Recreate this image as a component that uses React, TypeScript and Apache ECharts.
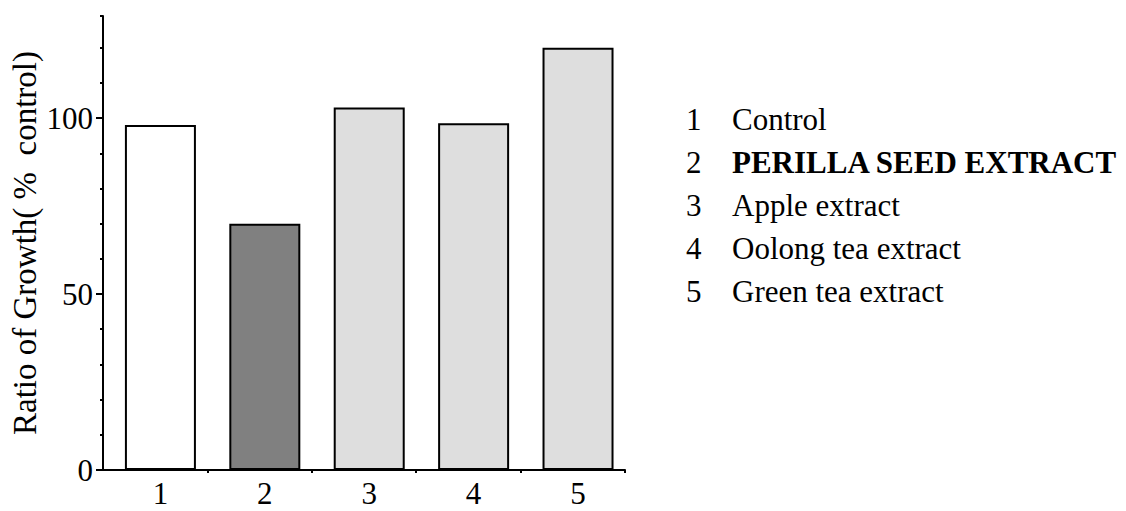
import React, { useEffect, useRef } from "react";
import * as echarts from "echarts";

const categories = ["1", "2", "3", "4", "5"];
const legendNames = ["Control", "PERILLA SEED EXTRACT", "Apple extract", "Oolong tea extract", "Green tea extract"];
const values = [98, 70, 103, 98.5, 120];
const barColors = ["#ffffff", "#808080", "#dedede", "#dedede", "#dedede"];
const yMinorTickValues = [10, 20, 30, 40, 60, 70, 80, 90, 110, 120, 129];
const yMajorTickValues = [0, 50, 100];
const yLabelValues = [0, 50, 100];
const xTickValues = [1.45, 2.45, 3.45, 4.45, 5.45];
const yAxisTitle = "Ratio of Growth( %  control)";

const FONT = "'Liberation Serif', 'Times New Roman', serif";

export default function App() {
  const ref = useRef<HTMLDivElement>(null);
  useEffect(() => {
    if (!ref.current) return;
    const chart = echarts.init(ref.current, null, { renderer: "svg" });
    const xPos = categories.map((_, i) => i + 1);
    const legendGraphics: any[] = [];
    legendNames.forEach((name, i) => {
      const baseline = 130 + i * 43;
      const y = baseline - 10.5;
      legendGraphics.push({
        type: "text",
        x: 686,
        y,
        style: { text: categories[i], font: `31px ${FONT}`, fill: "#000", verticalAlign: "middle" },
      });
      legendGraphics.push({
        type: "text",
        x: 732,
        y,
        style: {
          text: name,
          font: `${i === 1 ? "bold " : ""}31px ${FONT}`,
          fill: "#000",
          verticalAlign: "middle",
        },
      });
    });
    const yBase = {
      type: "value",
      min: 0,
      max: 129,
      position: "left",
      splitLine: { show: false },
    };
    chart.setOption({
      animation: false,
      backgroundColor: "#ffffff",
      grid: { left: 103, right: 501, top: 16, bottom: 41, containLabel: false },
      xAxis: {
        type: "value",
        min: 0.45,
        max: 5.45,
        splitLine: { show: false },
        axisLine: { show: true, lineStyle: { color: "#000", width: 2 } },
        axisTick: {
          show: true,
          inside: false,
          length: 3,
          lineStyle: { color: "#000", width: 2 },
          customValues: xTickValues,
        },
        axisLabel: {
          customValues: xPos,
          formatter: (v: number) => categories[Math.round(v) - 1] ?? "",
          color: "#000",
          fontFamily: FONT,
          fontSize: 31,
          margin: 8,
        },
      },
      yAxis: [
        {
          ...yBase,
          axisLine: { show: true, lineStyle: { color: "#000", width: 2 } },
          axisTick: {
            show: true,
            length: 7,
            lineStyle: { color: "#000", width: 2 },
            customValues: yMajorTickValues,
          },
          axisLabel: {
            customValues: yLabelValues,
            color: "#000",
            fontFamily: FONT,
            fontSize: 31,
            margin: 10,
          },
          name: yAxisTitle,
          nameLocation: "middle",
          nameGap: 62,
          nameTextStyle: { color: "#000", fontFamily: FONT, fontSize: 33 },
        },
        {
          ...yBase,
          axisLine: { show: false },
          axisTick: {
            show: true,
            length: 3,
            lineStyle: { color: "#000", width: 2 },
            customValues: yMinorTickValues,
          },
          axisLabel: { show: false },
        },
      ],
      series: [
        {
          type: "bar",
          yAxisIndex: 0,
          barWidth: 71,
          data: values.map((v, i) => ({
            value: [xPos[i], v],
            itemStyle: { color: barColors[i], borderColor: "#000", borderWidth: 2 },
          })),
        },
      ],
      graphic: legendGraphics,
    });
    return () => chart.dispose();
  }, []);
  return (
    <div
      ref={ref}
      style={{ position: "fixed", left: 0, top: 0, width: 1126, height: 511, background: "#fff" }}
    />
  );
}
